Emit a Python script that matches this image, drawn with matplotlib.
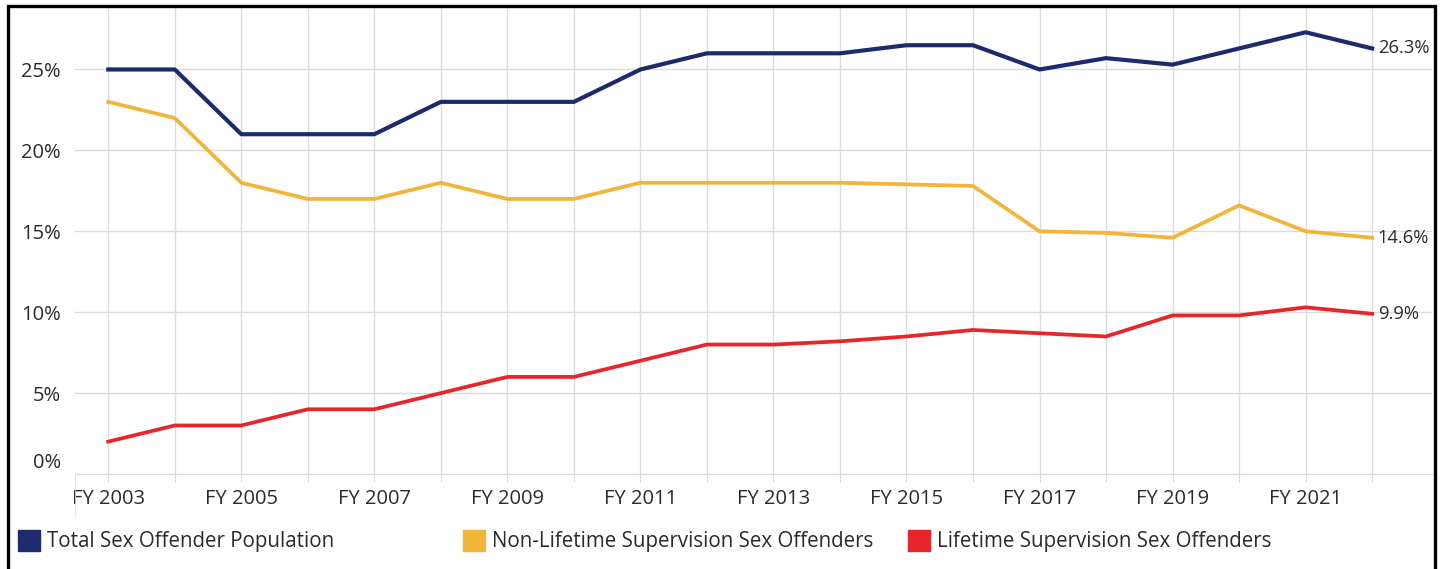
import matplotlib
matplotlib.use('Agg')
import matplotlib.pyplot as plt
import matplotlib.transforms as mtransforms
from matplotlib.patches import Rectangle

years = list(range(2003, 2023))
total = [25, 25, 21, 21, 21, 23, 23, 23, 25, 26, 26, 26, 26.5, 26.5, 25, 25.7, 25.3, 26.3, 27.3, 26.3]
non_lifetime = [23, 22, 18, 17, 17, 18, 17, 17, 18, 18, 18, 18, 17.9, 17.8, 15, 14.9, 14.6, 16.6, 15, 14.6]
lifetime = [2.0, 3, 3, 4, 4, 5, 6, 6, 7, 8, 8, 8.2, 8.5, 8.9, 8.7, 8.5, 9.8, 9.8, 10.3, 9.9]
series_names = ['Total Sex Offender Population', 'Non-Lifetime Supervision Sex Offenders',
                'Lifetime Supervision Sex Offenders']
colors = ['#1f2a6c', '#f2b53c', '#e5262a']
yticks = [0, 5, 10, 15, 20, 25]

plt.rcParams['font.family'] = ['Open Sans', 'DejaVu Sans']
txt = '#2b2b2b'
grid = '#dcdcdc'

fig = plt.figure(figsize=(14.45, 5.69), dpi=100)
ax = fig.add_axes([75 / 1445, 1 - 474 / 569, (1432 - 75) / 1445, (474 - 8) / 569])

x = list(range(len(years)))
for vals, c, lw in zip([total, non_lifetime, lifetime], colors, [3.0, 2.7, 2.7]):
    ax.plot(x, vals, color=c, lw=lw, solid_joinstyle='round', zorder=3)
    ax.annotate(f'{vals[-1]:.1f}%', (x[-1], vals[-1]), xytext=(4, 0), textcoords='offset points',
                va='center', ha='left', fontsize=13.2, color=txt)

ax.set_xlim(-0.5, 19.9)
ax.set_ylim(0, 28.8)
ax.set_xticks(x)
ax.set_xticklabels([f'FY {y}' if (y - 2003) % 2 == 0 else '' for y in years])
ax.set_xticks([-0.5], minor=True)
ax.set_yticks(yticks)
ax.set_yticklabels([f'{v}%' for v in yticks])
ax.tick_params(axis='x', which='major', length=6, color=grid, labelsize=14.5, labelcolor=txt, pad=4.5)
ax.tick_params(axis='x', which='minor', length=30, color=grid)
ax.tick_params(axis='y', length=0, labelsize=14.5, labelcolor=txt, pad=10)
ax.grid(True, color=grid, lw=1)
ax.set_axisbelow(True)
for s in ['top', 'right', 'left']:
    ax.spines[s].set_visible(False)
ax.spines['bottom'].set_color(grid)

# 0% label sits a bit above its gridline in the original
lab0 = ax.yaxis.get_major_ticks()[0].label1
lab0.set_transform(lab0.get_transform() + mtransforms.ScaledTranslation(0, 10 / 72, fig.dpi_scale_trans))

# legend
leg_x = [18, 463, 908]
for lx, name, c in zip(leg_x, series_names, colors):
    fig.patches.append(Rectangle((lx / 1445, 1 - 551 / 569), 22 / 1445, 21 / 569,
                                 transform=fig.transFigure, color=c))
    fig.text((lx + 29) / 1445, 1 - 541 / 569, name, va='center', ha='left', fontsize=14.8, color=txt)

# frame around the chart
fig.patches.append(Rectangle((8 / 1445, -0.02), (1435 - 8) / 1445, 1.02 - 6 / 569,
                             transform=fig.transFigure, fill=False, ec='black', lw=2.4))

fig.savefig('out.png', dpi=100)
